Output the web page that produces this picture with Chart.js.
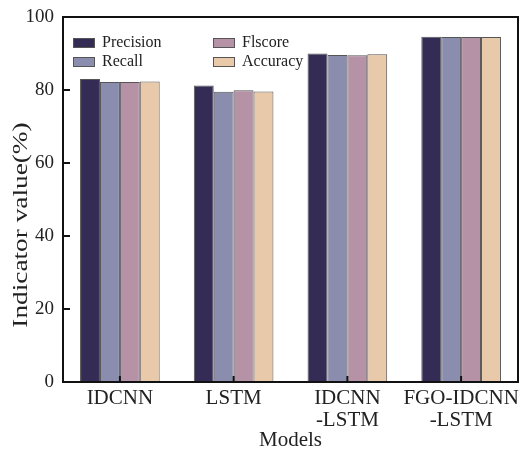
<!DOCTYPE html>
<html>
<head>
<meta charset="utf-8">
<script src="https://cdn.jsdelivr.net/npm/chart.js@4"></script>
<style>
  body { margin: 0; background: #fff; }
  canvas { display: block; }
</style>
</head>
<body>
<canvas id="grafico" width="522" height="453"></canvas>
<script>
// Dados do gráfico
const modelos = [['IDCNN'], ['LSTM'], ['IDCNN', '-LSTM'], ['FGO-IDCNN', '-LSTM']];
const precision = [83.0, 81.2, 90.0, 94.6];
const recall = [82.2, 79.5, 89.6, 94.5];
const f1score = [82.2, 79.9, 89.5, 94.5];
const accuracy = [82.3, 79.6, 89.8, 94.5];
const yTicks = [0, 20, 40, 60, 80, 100];

const fonte = '"Liberation Serif", "Times New Roman", serif';

// Moldura, marcas internas, título do eixo y e legenda em duas colunas
const molduraPlugin = {
    id: 'moldura',
    afterDraw(chart) {
        const ctx = chart.ctx;
        const a = chart.chartArea;
        const y = chart.scales.y;
        const x = chart.scales.x;
        ctx.save();
        ctx.strokeStyle = '#111';
        ctx.lineWidth = 2;
        ctx.strokeRect(a.left, a.top, a.right - a.left, a.bottom - a.top);

        // marcas do eixo y (para dentro)
        yTicks.forEach(v => {
            const py = y.getPixelForValue(v);
            ctx.beginPath();
            ctx.moveTo(a.left, py);
            ctx.lineTo(a.left + 7, py);
            ctx.stroke();
        });
        // marcas do eixo x no centro de cada categoria
        modelos.forEach((m, i) => {
            const px = x.getPixelForValue(i);
            ctx.beginPath();
            ctx.moveTo(px, a.bottom);
            ctx.lineTo(px, a.bottom - 6);
            ctx.stroke();
        });

        // título do eixo y (texto um pouco esticado, como no original)
        ctx.save();
        ctx.translate(21, 225);
        ctx.rotate(-Math.PI / 2);
        ctx.scale(1.3, 1);
        ctx.font = '21px ' + fonte;
        ctx.fillStyle = '#222';
        ctx.textAlign = 'center';
        ctx.textBaseline = 'middle';
        ctx.fillText('Indicator value(%)', 0, 0);
        ctx.restore();

        // legenda
        const ordem = [[0, 73, 38], [2, 213, 38], [1, 73, 57], [3, 213, 57]];
        ctx.font = '16px ' + fonte;
        ctx.textBaseline = 'middle';
        ctx.lineWidth = 1;
        ordem.forEach(([idx, lx, ly]) => {
            const ds = chart.data.datasets[idx];
            ctx.fillStyle = ds.backgroundColor;
            ctx.fillRect(lx, ly, 22, 10);
            ctx.strokeStyle = '#555';
            ctx.strokeRect(lx + 0.5, ly + 0.5, 21, 9);
            ctx.fillStyle = '#222';
            ctx.fillText(ds.label, lx + 29, ly + 5);
        });
        ctx.restore();
    }
};

const ctx = document.getElementById('grafico').getContext('2d');
const grafico = new Chart(ctx, {
    type: 'bar',
    data: {
        labels: modelos,
        datasets: [
            { label: 'Precision', data: precision, backgroundColor: '#342C54' },
            { label: 'Recall', data: recall, backgroundColor: '#8A8DAE' },
            { label: 'Flscore', data: f1score, backgroundColor: '#B592A6' },
            { label: 'Accuracy', data: accuracy, backgroundColor: '#E8C9A9' }
        ].map(d => Object.assign(d, { borderColor: '#555', borderWidth: 1, categoryPercentage: 0.7, barPercentage: 1.0 }))
    },
    options: {
        responsive: false,
        animation: false,
        layout: { padding: { top: 17, right: 4, left: 0, bottom: 0 } },
        plugins: {
            legend: { display: false },
            tooltip: { enabled: false }
        },
        scales: {
            x: {
                grid: { display: false },
                border: { display: false },
                ticks: { color: '#222', font: { family: fonte, size: 21, lineHeight: 1.05 }, padding: -3, maxRotation: 0, autoSkip: false },
                title: { display: true, text: 'Models', color: '#222', font: { family: fonte, size: 21 }, padding: 0 },
                afterFit: s => { s.height = 71; }
            },
            y: {
                min: 0,
                max: 100,
                grid: { display: false },
                border: { display: false },
                ticks: { stepSize: 20, color: '#222', font: { family: fonte, size: 19 }, padding: 1 },
                afterFit: s => { s.width = 63; }
            }
        }
    },
    plugins: [molduraPlugin]
});
</script>
</body>
</html>
